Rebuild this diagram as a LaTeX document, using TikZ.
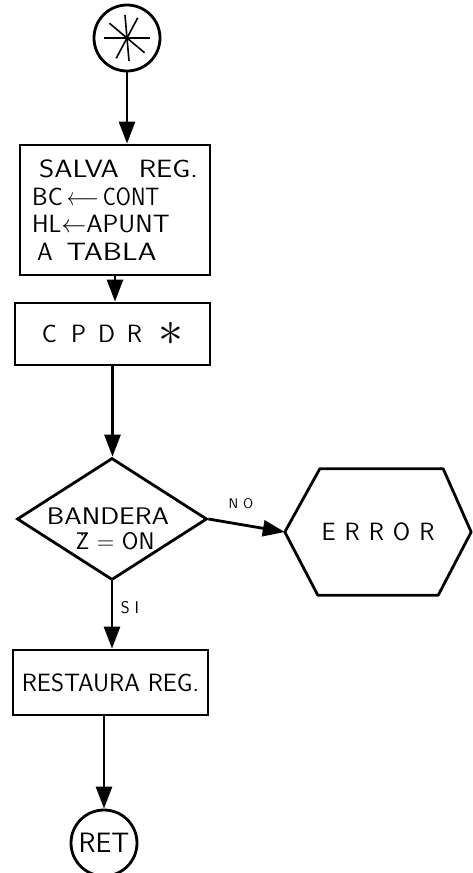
\documentclass[tikz,border=0pt]{standalone}
\usepackage{graphicx}
\usetikzlibrary{arrows.meta,shapes.geometric,calc}
\newcommand\hwide[2]{\scalebox{#1}[1]{#2}}
\tikzset{
  flow/.style={line width=2.8pt, -{Triangle[length=22pt,width=16pt]}},
  outline/.style={draw, line width=2.8pt, inner sep=0pt},
  boxnode/.style={outline, rectangle, align=center, font=\sffamily\fontsize{25}{27.7}\selectfont},
  termnode/.style={outline, circle, minimum size=66pt, font=\sffamily\fontsize{28}{30}\selectfont},
  decnode/.style={outline, diamond, minimum width=190pt, minimum height=122pt},
  dtxt/.style={align=center, inner sep=0pt, font=\sffamily\fontsize{24}{25}\selectfont},
  lbl/.style={font=\sffamily\fontsize{14}{14}\selectfont, inner sep=0pt}
}
\begin{document}
\begin{tikzpicture}[x=1pt,y=-1pt]
\useasboundingbox (0,0) rectangle (472,873);

% start terminal with asterisk
\node[termnode] (s) at (127,38) {};
\foreach \a in {0,62,95,140}
  \draw[line width=1.6pt] ($(s.center)+(\a:23pt)$) -- ($(s.center)+(\a+180:23pt)$);

% boxes
\node[boxnode, minimum width=190pt, minimum height=130pt, align=left] (b1) at (115,210)
  {\hspace{7pt}\hwide{1.17}{SALVA}\hspace{20pt}\hwide{1.15}{REG.}\\
   BC\hspace{4pt}\hwide{0.8}{$\longleftarrow$}\hspace{4pt}\hwide{0.87}{CONT}\\
   HL$\leftarrow$\hwide{1.05}{APUNT}\\
   \hspace{5pt}A\hspace{14pt}\hwide{1.22}{TABLA}};

\node[boxnode, minimum width=195pt, minimum height=62pt] (b2) at (112.5,334)
  {C\hspace{14pt}P\hspace{12pt}D\hspace{12pt}R\hspace{16pt}\raisebox{-3pt}{\scalebox{2}{$\ast$}}};

\node[decnode] (d) at (112,519) {};
\node[dtxt] (dt) at (108,529) {\hwide{1.16}{BANDERA}\\\hspace{14pt}\"{Z} = ON};

\node[draw=none, minimum width=186pt, minimum height=126pt, inner sep=0pt,
      font=\sffamily\fontsize{25}{28}\selectfont] (err) at (378,532)
  {E\kern9pt R\kern9pt R\kern9pt O\kern9pt R};
\draw[line width=2.8pt, line join=round]
  (err.west) -- ($(err.north west)+(35,0)$) -- ($(err.north east)+(-28,0)$)
  -- (err.east) -- ($(err.south east)+(-33,0)$) -- ($(err.south west)+(33,0)$) -- cycle;

\node[boxnode, minimum width=195pt, minimum height=65pt] (b3) at (110.5,682.5)
  {RESTAURA REG.};

\node[termnode] (r) at (104,843) {RET};

% connectors
\draw[flow] (s.south) -- (s.south |- b1.north);
\draw[flow] (b1.south) -- (b1.south |- b2.north);
\draw[flow] (b2.south) -- (b2.south |- d.north);
\draw[flow] (d.east) -- (err.west);
\draw[flow] (d.south) -- (d.south |- b3.north);
\draw[flow] (r.north |- b3.south) -- (r.north);

% labels
\node[lbl] (no) at (241,504) {N\kern5pt O};
\node[lbl, font=\sffamily\fontsize{17}{17}\selectfont] (si) at (130,608) {S\kern5pt I};
\end{tikzpicture}
\end{document}
